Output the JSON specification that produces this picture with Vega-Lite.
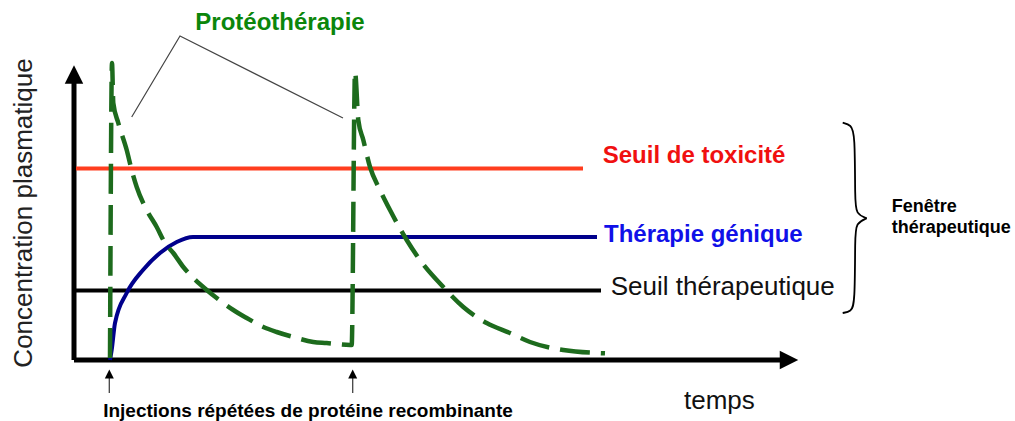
{
  "$schema": "https://vega.github.io/schema/vega-lite/v6.json",
  "width": 1015,
  "height": 421,
  "autosize": {"type": "none"},
  "padding": 0,
  "background": "white",
  "config": {"view": {"stroke": null}},
  "datasets": {
    "axes": [
      {"serie": "temps", "t": 0, "c": 0},
      {"serie": "temps", "t": 71.1, "c": 0},
      {"serie": "concentration", "t": 0, "c": 0},
      {"serie": "concentration", "t": 0, "c": 28.0}
    ],
    "fleches": [
      {"dir": "haut", "t": 0, "c": 28.55},
      {"dir": "droite", "t": 71.5, "c": 0}
    ],
    "seuils": [
      {"serie": "toxicite", "t": 0.2, "c": 19.15},
      {"serie": "toxicite", "t": 50.9, "c": 19.15},
      {"serie": "seuil", "t": 0, "c": 6.95},
      {"serie": "seuil", "t": 52.7, "c": 6.95},
      {"serie": "genique", "t": 3.6, "c": 0},
      {"serie": "genique", "t": 3.77, "c": 1.0},
      {"serie": "genique", "t": 4.1, "c": 3.7},
      {"serie": "genique", "t": 5.27, "c": 6.7},
      {"serie": "genique", "t": 6.9, "c": 9.0},
      {"serie": "genique", "t": 8.6, "c": 10.7},
      {"serie": "genique", "t": 10.27, "c": 11.8},
      {"serie": "genique", "t": 11.9, "c": 12.3},
      {"serie": "genique", "t": 52.3, "c": 12.3}
    ],
    "proteo": [
      {"i": 1, "t": 3.6, "c": 0.2},
      {"i": 2, "t": 3.8, "c": 29.7},
      {"i": 3, "t": 3.93, "c": 25.7},
      {"i": 4, "t": 4.43, "c": 23.7},
      {"i": 5, "t": 5.27, "c": 21.0},
      {"i": 6, "t": 5.77, "c": 19.0},
      {"i": 7, "t": 6.27, "c": 17.3},
      {"i": 8, "t": 7.27, "c": 15.0},
      {"i": 9, "t": 8.27, "c": 13.3},
      {"i": 10, "t": 9.1, "c": 11.7},
      {"i": 11, "t": 9.93, "c": 10.7},
      {"i": 12, "t": 10.93, "c": 9.3},
      {"i": 13, "t": 11.93, "c": 8.2},
      {"i": 14, "t": 13.27, "c": 7.0},
      {"i": 15, "t": 14.27, "c": 6.2},
      {"i": 16, "t": 15.93, "c": 5.0},
      {"i": 17, "t": 17.27, "c": 4.2},
      {"i": 18, "t": 18.93, "c": 3.3},
      {"i": 19, "t": 20.27, "c": 2.8},
      {"i": 20, "t": 21.93, "c": 2.3},
      {"i": 21, "t": 23.93, "c": 1.8},
      {"i": 22, "t": 25.27, "c": 1.7},
      {"i": 23, "t": 27.6, "c": 1.5},
      {"i": 24, "t": 27.77, "c": 1.5},
      {"i": 25, "t": 28.1, "c": 28.8},
      {"i": 26, "t": 28.43, "c": 24.0},
      {"i": 27, "t": 28.93, "c": 22.0},
      {"i": 28, "t": 29.6, "c": 19.3},
      {"i": 29, "t": 30.6, "c": 17.0},
      {"i": 30, "t": 31.6, "c": 15.0},
      {"i": 31, "t": 33.27, "c": 12.0},
      {"i": 32, "t": 34.6, "c": 10.0},
      {"i": 33, "t": 36.93, "c": 7.3},
      {"i": 34, "t": 38.93, "c": 5.3},
      {"i": 35, "t": 41.27, "c": 3.7},
      {"i": 36, "t": 43.6, "c": 2.7},
      {"i": 37, "t": 45.6, "c": 1.8},
      {"i": 38, "t": 48.93, "c": 1.0},
      {"i": 39, "t": 53.1, "c": 0.67}
    ],
    "renvoi": [
      {"i": 1, "t": 5.77, "c": 24.3},
      {"i": 2, "t": 10.6, "c": 32.4},
      {"i": 3, "t": 26.9, "c": 24.2}
    ],
    "accolade": [
      {"part": "haut", "i": 1, "t": 76.87, "c": 23.73},
      {"part": "haut", "i": 2, "t": 77.7, "c": 23.5},
      {"part": "haut", "i": 3, "t": 78.1, "c": 22.7},
      {"part": "haut", "i": 4, "t": 78.1, "c": 16.0},
      {"part": "haut", "i": 5, "t": 78.2, "c": 14.6},
      {"part": "haut", "i": 6, "t": 79.27, "c": 14.17},
      {"part": "bas", "i": 1, "t": 79.27, "c": 14.17},
      {"part": "bas", "i": 2, "t": 78.2, "c": 13.7},
      {"part": "bas", "i": 3, "t": 78.1, "c": 12.3},
      {"part": "bas", "i": 4, "t": 78.1, "c": 5.6},
      {"part": "bas", "i": 5, "t": 77.7, "c": 4.85},
      {"part": "bas", "i": 6, "t": 76.87, "c": 4.7}
    ],
    "injections": [
      {"t": 3.53, "c": -1.8, "c2": -3.3, "tete": -1.4},
      {"t": 27.87, "c": -1.8, "c2": -3.3, "tete": -1.4}
    ],
    "txt_proteo": [{"label": "Protéothérapie", "t": 20.6, "c": 33.0}],
    "txt_tox": [{"label": "Seuil de toxicité", "t": 52.87, "c": 19.67}],
    "txt_gen": [{"label": "Thérapie génique", "t": 53.0, "c": 11.83}],
    "txt_seuil": [{"label": "Seuil thérapeutique", "t": 53.67, "c": 6.5}],
    "txt_fen": [
      {"label": "Fenêtre", "t": 81.77, "c": 14.83},
      {"label": "thérapeutique", "t": 81.77, "c": 12.67}
    ],
    "txt_temps": [{"label": "temps", "t": 61.0, "c": -4.93}],
    "txt_inj": [{"label": "Injections répétées de protéine recombinante", "t": 23.4, "c": -5.73}],
    "txt_conc": [{"label": "Concentration plasmatique", "t": -4.17, "c": 14.7}]
  },
  "encoding": {
    "x": {"field": "t", "type": "quantitative", "scale": {"domain": [-7.4, 94.1], "nice": false, "zero": false}, "axis": null},
    "y": {"field": "c", "type": "quantitative", "scale": {"domain": [-6.1, 36.0], "nice": false, "zero": false}, "axis": null}
  },
  "layer": [
    {
      "data": {"name": "axes"},
      "mark": {"type": "line", "strokeWidth": 5, "color": "black", "strokeCap": "butt"},
      "encoding": {"detail": {"field": "serie"}}
    },
    {
      "data": {"name": "fleches"},
      "mark": {"type": "point", "filled": true, "color": "black", "opacity": 1, "size": 340},
      "encoding": {
        "shape": {"field": "dir", "type": "nominal", "scale": {"domain": ["haut", "droite"], "range": ["M0,-1L1,1L-1,1Z", "M1,0L-1,-1L-1,1Z"]}, "legend": null}
      }
    },
    {
      "data": {"name": "seuils"},
      "mark": {"type": "line", "strokeWidth": 4, "interpolate": "monotone", "strokeCap": "butt"},
      "encoding": {
        "color": {"field": "serie", "type": "nominal", "scale": {"domain": ["toxicite", "seuil", "genique"], "range": ["#ff3d1f", "#000000", "#00008c"]}, "legend": null}
      }
    },
    {
      "data": {"name": "proteo"},
      "mark": {"type": "line", "strokeWidth": 4.5, "color": "#1d6b1d", "strokeDash": [30, 11], "interpolate": "monotone"},
      "encoding": {"order": {"field": "i", "type": "quantitative"}}
    },
    {
      "data": {"name": "renvoi"},
      "mark": {"type": "line", "strokeWidth": 1.2, "color": "#444444"},
      "encoding": {"order": {"field": "i", "type": "quantitative"}}
    },
    {
      "data": {"name": "accolade"},
      "mark": {"type": "line", "strokeWidth": 1.8, "color": "black", "interpolate": "basis"},
      "encoding": {"detail": {"field": "part"}, "order": {"field": "i", "type": "quantitative"}}
    },
    {
      "data": {"name": "injections"},
      "mark": {"type": "rule", "strokeWidth": 1.3, "color": "#444444"},
      "encoding": {"y2": {"field": "c2"}}
    },
    {
      "data": {"name": "injections"},
      "mark": {"type": "point", "filled": true, "color": "black", "opacity": 1, "size": 81, "shape": "M0,-1L1,1L-1,1Z"},
      "encoding": {"y": {"field": "tete", "type": "quantitative"}}
    },
    {
      "data": {"name": "txt_proteo"},
      "mark": {"type": "text", "font": "Liberation Sans", "fontWeight": "bold", "fontSize": 24, "color": "#0b860b", "align": "center", "baseline": "alphabetic"},
      "encoding": {"text": {"field": "label"}}
    },
    {
      "data": {"name": "txt_tox"},
      "mark": {"type": "text", "font": "Liberation Sans", "fontWeight": "bold", "fontSize": 24, "color": "#f01010", "align": "left", "baseline": "alphabetic"},
      "encoding": {"text": {"field": "label"}}
    },
    {
      "data": {"name": "txt_gen"},
      "mark": {"type": "text", "font": "Liberation Sans", "fontWeight": "bold", "fontSize": 24, "color": "#1010e8", "align": "left", "baseline": "alphabetic"},
      "encoding": {"text": {"field": "label"}}
    },
    {
      "data": {"name": "txt_seuil"},
      "mark": {"type": "text", "font": "Liberation Sans", "fontSize": 26, "color": "#111111", "align": "left", "baseline": "alphabetic"},
      "encoding": {"text": {"field": "label"}}
    },
    {
      "data": {"name": "txt_fen"},
      "mark": {"type": "text", "font": "Liberation Sans", "fontWeight": "bold", "fontSize": 18, "color": "black", "align": "left", "baseline": "alphabetic"},
      "encoding": {"text": {"field": "label"}}
    },
    {
      "data": {"name": "txt_temps"},
      "mark": {"type": "text", "font": "Liberation Sans", "fontSize": 26, "color": "#111111", "align": "left", "baseline": "alphabetic"},
      "encoding": {"text": {"field": "label"}}
    },
    {
      "data": {"name": "txt_inj"},
      "mark": {"type": "text", "font": "Liberation Sans", "fontWeight": "bold", "fontSize": 19, "color": "black", "align": "center", "baseline": "alphabetic"},
      "encoding": {"text": {"field": "label"}}
    },
    {
      "data": {"name": "txt_conc"},
      "mark": {"type": "text", "font": "Liberation Sans", "fontSize": 26, "color": "#222222", "align": "center", "baseline": "alphabetic", "angle": 270},
      "encoding": {"text": {"field": "label"}}
    }
  ]
}
